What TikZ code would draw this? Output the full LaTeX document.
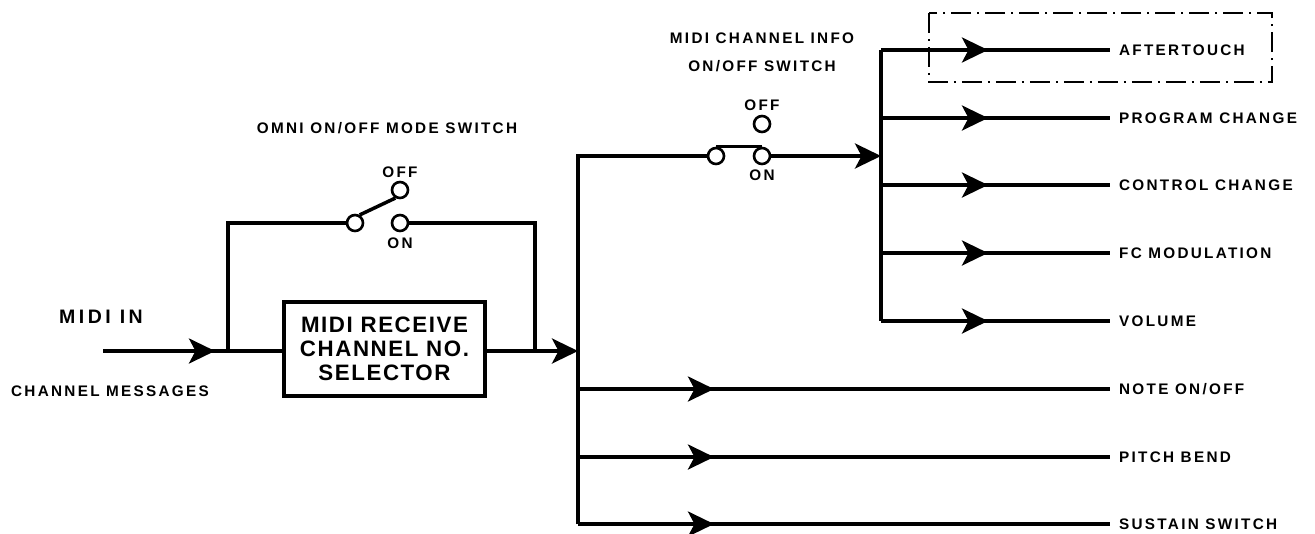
\documentclass[tikz,border=0pt]{standalone}
\usepackage{fontspec}
\setmainfont{Liberation Sans}
\newfontfamily\lblfont[LetterSpace=15]{Liberation Sans}
\newfontfamily\bigfont[LetterSpace=18]{Liberation Sans}
\newfontfamily\boxfont[LetterSpace=7]{Liberation Sans}
\usetikzlibrary{arrows.meta,decorations.markings}

\tikzset{
  flow/.tip={Stealth[length=0.52cm,width=0.5cm,inset=0.13cm]},
  wire/.style={line width=2pt},
  midflow/.style={postaction={decorate},
    decoration={markings,mark=at position #1 with {\arrow{flow}}}},
  txt/.style={font=\lblfont\bfseries\fontsize{8.7}{10}\selectfont,
    inner sep=0pt,text height=6.3pt,text depth=0pt},
  bigtxt/.style={font=\bigfont\bfseries\fontsize{11.1}{13}\selectfont,
    inner sep=0pt,text height=8pt,text depth=0pt},
  outlbl/.style={txt,anchor=west,inner xsep=5pt},
  swpin/.style={circle,draw,fill=white,line width=1.5pt,minimum size=0.32cm,inner sep=0pt},
  selbox/.style={draw,line width=2pt,minimum width=4.02cm,minimum height=1.88cm,
    align=center,font=\boxfont\bfseries\fontsize{12.7}{13.6}\selectfont},
  hilite/.style={line width=1.3pt,dash pattern=on 0.4cm off 0.12cm on 0.04cm off 0.12cm}
}

\begin{document}
\begin{tikzpicture}[x=0.02cm,y=-0.02cm]
    \useasboundingbox (0,0) rectangle (1315,534);

    % input and selector
    \node[bigtxt] (midiin) at (101,316) {MIDI IN};
    \node[txt] (chmsg) at (110,391) {CHANNEL MESSAGES};
    \coordinate (src) at (103,351);
    \coordinate (jin) at (228,351);
    \coordinate (jout) at (535,351);
    \coordinate (bus) at (578,351);
    \node[selbox] (sel) at (384.5,349) {MIDI RECEIVE\\CHANNEL NO.\\SELECTOR};

    \draw[wire,midflow=2.24cm] (src) -- (jin);
    \draw[wire] (jin) -- (jin -| sel.west);
    \draw[wire,-flow] (sel.east |- bus) -- (bus);

    % omni switch
    \node[txt] (omnititle) at (387,128) {OMNI ON/OFF MODE SWITCH};
    \node[swpin] (omnil) at (355,223) {};
    \node[swpin] (omnion) at (400,223) {};
    \node[swpin] (omnioff) at (400,190) {};
    \node[txt] (omniofftxt) at (400,172) {OFF};
    \node[txt] (omniontxt) at (400,243) {ON};

    \draw[wire] (jin) |- (omnil);
    \draw[wire] (omnion) -| (jout);
    \draw[wire] (omnil.60) -- (omnioff.-120);

    % channel info switch
    \coordinate (bustop) at (578,156);
    \coordinate (busbot) at (578,524);
    \coordinate (fan) at (881,156);
    \coordinate (fantop) at (881,50);
    \coordinate (fanbot) at (881,321);
    \node[txt] (infotitle) at (762,38) {MIDI CHANNEL INFO};
    \node[txt] (infotitleb) at (762,66) {ON/OFF SWITCH};
    \node[swpin] (infol) at (716,156) {};
    \node[swpin] (infoon) at (762,156) {};
    \node[swpin] (infooff) at (762,124) {};
    \node[txt] (infoofftxt) at (762,105) {OFF};
    \node[txt] (infoontxt) at (762,175) {ON};

    \draw[wire] (busbot) -- (bustop) -- (infol);
    \draw[wire] (infol.north) -- (infoon.north);
    \draw[wire,-flow] (infoon) -- (fan);
    \draw[wire] (fantop) -- (fanbot);

    % outputs
    \foreach \y/\name/\txt in {50/aft/AFTERTOUCH,118/prog/PROGRAM CHANGE,185/ctrl/CONTROL CHANGE,253/fcmod/FC MODULATION,321/vol/VOLUME} {
        \coordinate (\name src) at (881,\y);
        \node[outlbl] (\name) at (1110,\y) {\txt};
        \draw[wire,midflow=2.14cm] (\name src) -- (\name);
    }
    \foreach \y/\name/\txt in {389/note/{NOTE ON/OFF},457/bend/PITCH BEND,524/sus/SUSTAIN SWITCH} {
        \coordinate (\name src) at (578,\y);
        \node[outlbl] (\name) at (1110,\y) {\txt};
        \draw[wire,midflow=2.72cm] (\name src) -- (\name);
    }

    \draw[hilite] (929,13) rectangle (1272,82);
\end{tikzpicture}
\end{document}
